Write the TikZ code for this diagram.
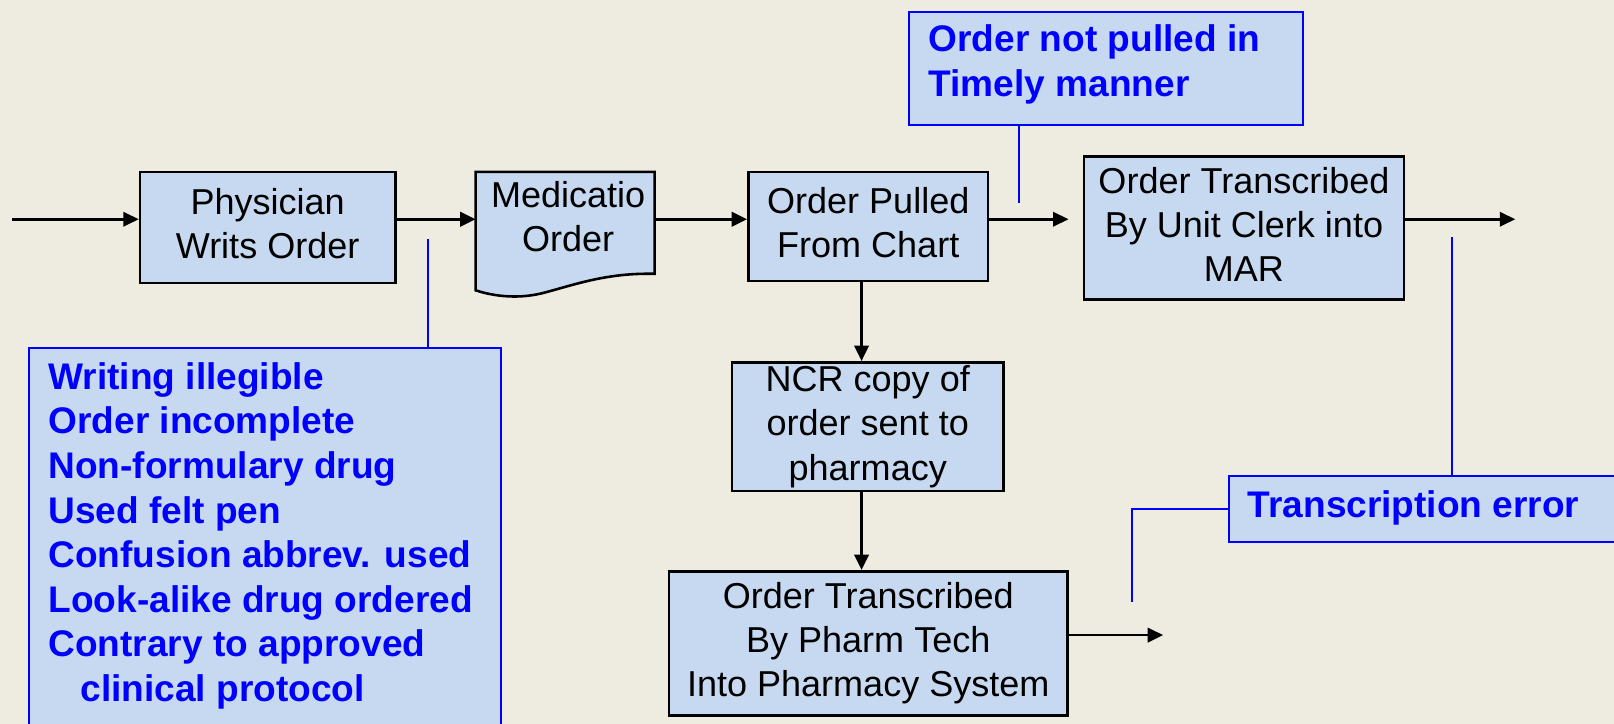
\documentclass[tikz,border=0pt]{standalone}
\usepackage{fontspec}
\setmainfont{Liberation Sans}
\usetikzlibrary{arrows.meta}
\definecolor{paper}{RGB}{238,235,224}
\definecolor{boxfill}{RGB}{198,217,240}
\definecolor{note}{RGB}{0,0,255}
\tikzset{
  stepbox/.style={draw=black, line width=2.5pt, fill=boxfill, align=center,
    font=\fontsize{35}{43}\selectfont, inner sep=0pt},
  notebox/.style={draw=note, line width=2pt, fill=boxfill, inner sep=0pt, anchor=north west},
  notetext/.style={text=note, font=\fontsize{36}{43.3}\selectfont\bfseries, align=left,
    inner sep=0pt, anchor=north west},
  flow/.style={line width=2.5pt, -{Triangle[length=15pt,width=14pt]}},
  link/.style={draw=note, line width=2pt},
}
\begin{document}
\begin{tikzpicture}[x=1pt,y=-1pt]
\useasboundingbox (0,0) rectangle (1568,703);
\fill[paper] (0,0) rectangle (1568,703);
\clip (0,0) rectangle (1568,703);

% process steps
\node[stepbox, minimum width=248, minimum height=108] (phys) at (260,221)
  {Physician\\Writs Order\vphantom{p}};
\node[minimum width=174, minimum height=115, inner sep=0pt, anchor=north west] (med) at (462,167) {};
\draw[line width=2.5pt, fill=boxfill] (462,167) -- (636,167) -- (636,266)
  .. controls (590,265) and (560,276) .. (530,284)
  .. controls (505,291) and (480,288) .. (462,282) -- cycle;
\node[align=center, inner sep=0pt, font=\fontsize{35}{43}\selectfont] (medtxt) at (552,214)
  {Medicatio\\Order\vphantom{p}};
\node[stepbox, minimum width=233, minimum height=106] (pull) at (843.5,220)
  {Order Pulled\\From Chart\vphantom{p}};
\node[stepbox, minimum width=311, minimum height=139] (unit) at (1208.5,221.5)
  {Order Transcribed\\By Unit Clerk into\\MAR\vphantom{p}};
\node[stepbox, minimum width=264, minimum height=125] (ncr) at (843,414.5)
  {NCR copy of\\order sent to\\pharmacy};
\node[stepbox, minimum width=387, minimum height=140] (pharm) at (843.5,625)
  {Order Transcribed\\By Pharm Tech\\Into Pharmacy System};

% failure notes
\node[notebox, minimum width=383, minimum height=109] (late) at (882,11) {};
\node[notetext, font=\fontsize{36}{43}\selectfont\bfseries] (latetxt) at (902,24)
  {Order not pulled in\\Timely manner};
\node[notebox, minimum width=400, minimum height=65] (trans) at (1193,461) {};
\node[notetext, font=\fontsize{36}{43}\selectfont\bfseries] (transtxt) at (1212,476) {Transcription error};
\node[notebox, minimum width=459, minimum height=420] (why) at (27,337) {};
\node[notetext] (whytxt) at (47,352) {Writing illegible\\Order incomplete\\Non-formulary drug\\Used felt pen\\Confusion abbrev. used\\Look-alike drug ordered\\Contrary to approved\\\hspace*{31pt}clinical protocol};

% note leaders
\coordinate (latetip) at (990,197);
\coordinate (whytip) at (416,232);
\coordinate (transtip) at (1411,230);
\coordinate (pharmtip) at (1100,585);
\draw[link] (late.south -| latetip) -- (latetip);
\draw[link] (why.north -| whytip) -- (whytip);
\draw[link] (trans.north -| transtip) -- (transtip);
\draw[link] (trans.west) -| (pharmtip);

% flow arrows
\coordinate (in) at (12,213);
\coordinate (ucin) at (1038,213);
\coordinate (out) at (1472,213);
\coordinate (down) at (837,0);
\coordinate (pout) at (1130,617);
\draw[flow] (in) -- (in -| phys.west);
\draw[flow] (in -| phys.east) -- (in -| med.west);
\draw[flow] (in -| med.east) -- (in -| pull.west);
\draw[flow] (in -| pull.east) -- (ucin);
\draw[flow] (in -| unit.east) -- (out);
\draw[flow] (pull.south -| down) -- (ncr.north -| down);
\draw[flow] (ncr.south -| down) -- (pharm.north -| down);
\draw[flow] (pout -| pharm.east) -- (pout);
\end{tikzpicture}
\end{document}
